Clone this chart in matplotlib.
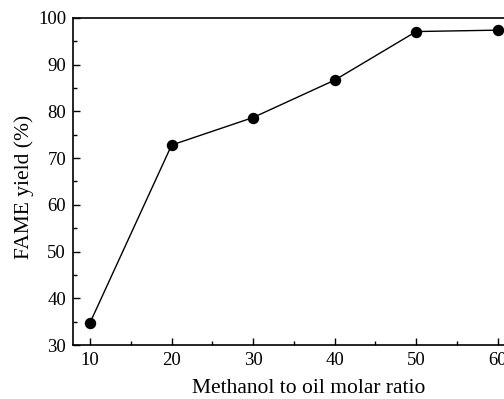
import matplotlib
matplotlib.use("Agg")
import matplotlib.pyplot as plt
from matplotlib.ticker import MultipleLocator

ratio = [10, 20, 30, 40, 50, 60]
yield_pct = [34.8, 72.8, 78.7, 86.7, 97.1, 97.4]

plt.rcParams['font.family'] = ['Liberation Serif', 'DejaVu Serif']

fig = plt.figure(figsize=(5.04, 3.99), dpi=100)
ax = fig.add_axes([73/504, 54/399, 441/504, 327/399])

ax.plot(ratio, yield_pct, color='black', lw=1.0, marker='o', ms=7.2,
        markerfacecolor='black', markeredgecolor='black')

ax.set_xlim(7.9, 62)
ax.set_ylim(30, 100)
ax.xaxis.set_major_locator(MultipleLocator(10))
ax.xaxis.set_minor_locator(MultipleLocator(5))
ax.yaxis.set_major_locator(MultipleLocator(10))
ax.yaxis.set_minor_locator(MultipleLocator(5))
ax.tick_params(which='both', direction='in', labelsize=13.5, width=1.0,
               top=False, right=False)
ax.tick_params(which='major', length=5, pad=5)
ax.tick_params(which='minor', length=3)
for s in ax.spines.values():
    s.set_linewidth(1.2)

ax.set_xlabel('Methanol to oil molar ratio', fontsize=15.5, labelpad=9)
ax.set_ylabel('FAME yield (%)', fontsize=15.5, labelpad=3)
ax.xaxis.set_label_coords(0.535, -0.105)
ax.yaxis.label.set_y(0.485)

fig.savefig('out.png', dpi=100)
